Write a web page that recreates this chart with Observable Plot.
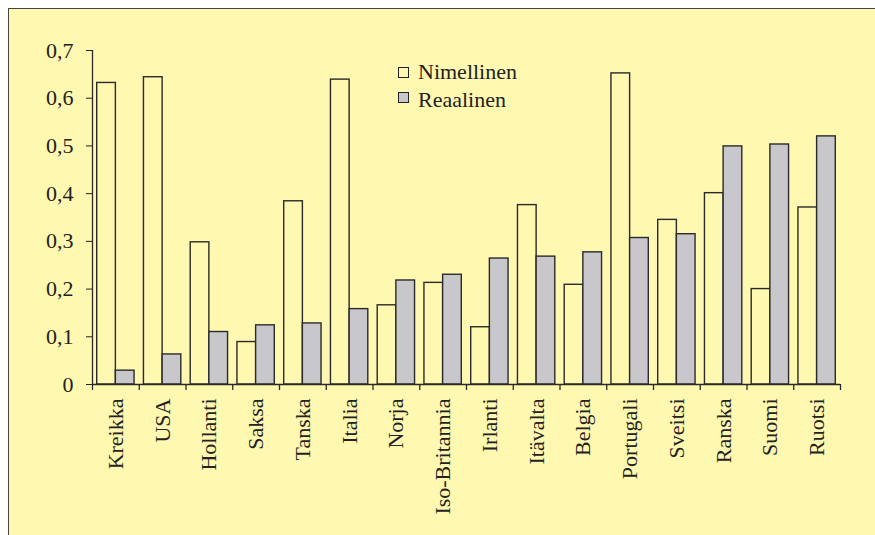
<!DOCTYPE html>
<html>
<head>
<meta charset="utf-8">
<script src="https://cdn.jsdelivr.net/npm/d3@7"></script>
<script src="https://cdn.jsdelivr.net/npm/@observablehq/plot@0.6"></script>
<style>
  html, body { margin: 0; padding: 0; background: #ffffff; overflow: hidden; }
  #wrap { position: relative; width: 875px; height: 535px; overflow: hidden; }
  #panel { position: absolute; left: 8px; top: 8px; width: 900px; height: 600px;
           background: #FFF8B0; border: 1.5px solid #444; box-sizing: border-box; }
  #chart { position: absolute; left: 0; top: 0; }
  .leg { position: absolute; font-family: "Liberation Serif", serif; font-size: 22px; color: #222;
         line-height: 22px; white-space: nowrap; }
  .sw { position: absolute; width: 9px; height: 9px; border: 1.4px solid #222; }
</style>
</head>
<body>
<div id="wrap">
  <div id="panel"></div>
  <div id="chart"></div>
  <div class="sw" style="left:398px; top:67px; background:#FFF8B0;"></div>
  <div class="leg" style="left:418px; top:61px;">Nimellinen</div>
  <div class="sw" style="left:398px; top:92px; background:#C8C8CC;"></div>
  <div class="leg" style="left:418px; top:89px;">Reaalinen</div>
</div>
<script>
const countries = ["Kreikka","USA","Hollanti","Saksa","Tanska","Italia","Norja","Iso-Britannia","Irlanti","Itävalta","Belgia","Portugali","Sveitsi","Ranska","Suomi","Ruotsi"];
const nimellinen = [0.632,0.644,0.298,0.089,0.384,0.639,0.166,0.213,0.120,0.376,0.209,0.652,0.345,0.401,0.200,0.371];
const reaalinen  = [0.029,0.063,0.110,0.124,0.128,0.158,0.218,0.230,0.264,0.268,0.277,0.307,0.315,0.499,0.503,0.520];
const yTicks = [0, 0.1, 0.2, 0.3, 0.4, 0.5, 0.6, 0.7];

const W = 875, H = 535, mL = 92, mR = 35, mT = 50, mB = 151;
const bw = (W - mL - mR) / countries.length;
const pad = 4.7;
const barW = (bw - 2 * pad) / 2;
const ink = "#2a2a2a";

const rows = countries.map((c, i) => ({country: c, nim: nimellinen[i], real: reaalinen[i]}));
const fmt = d => d === 0 ? "0" : d3.format(".1f")(d).replace(".", ",");

const chart = Plot.plot({
  width: W, height: H,
  marginLeft: mL, marginRight: mR, marginTop: mT, marginBottom: mB,
  style: {background: "transparent", fontFamily: "Liberation Serif, serif", fontSize: "22px", color: "#222"},
  x: {domain: countries, padding: 0, round: false, label: null, tickRotate: -90, tickSize: 0, tickPadding: 14},
  y: {domain: [0, 0.7], ticks: yTicks, tickFormat: fmt, tickSize: 6, tickPadding: 13, label: null},
  marks: [
    Plot.barY(rows, {x: "country", y: "nim", fill: "none", stroke: ink, strokeWidth: 1.4,
                     insetLeft: pad, insetRight: pad + barW}),
    Plot.barY(rows, {x: "country", y: "real", fill: "#C8C8CC", stroke: ink, strokeWidth: 1.4,
                     insetLeft: pad + barW, insetRight: pad}),
    Plot.ruleY([0], {stroke: ink, strokeWidth: 1.3}),
    Plot.ruleX([countries[0]], {x: d => d, y1: 0, y2: 0.7, dx: -bw / 2, stroke: ink, strokeWidth: 1.3}),
    Plot.ruleX(countries, {x: d => d, y1: 0, y2: -0.0126, dx: -bw / 2, stroke: ink, strokeWidth: 1.3}),
    Plot.ruleX([countries[countries.length - 1]], {x: d => d, y1: 0, y2: -0.0126, dx: bw / 2, stroke: ink, strokeWidth: 1.3})
  ]
});
document.getElementById("chart").appendChild(chart);
</script>
</body>
</html>
